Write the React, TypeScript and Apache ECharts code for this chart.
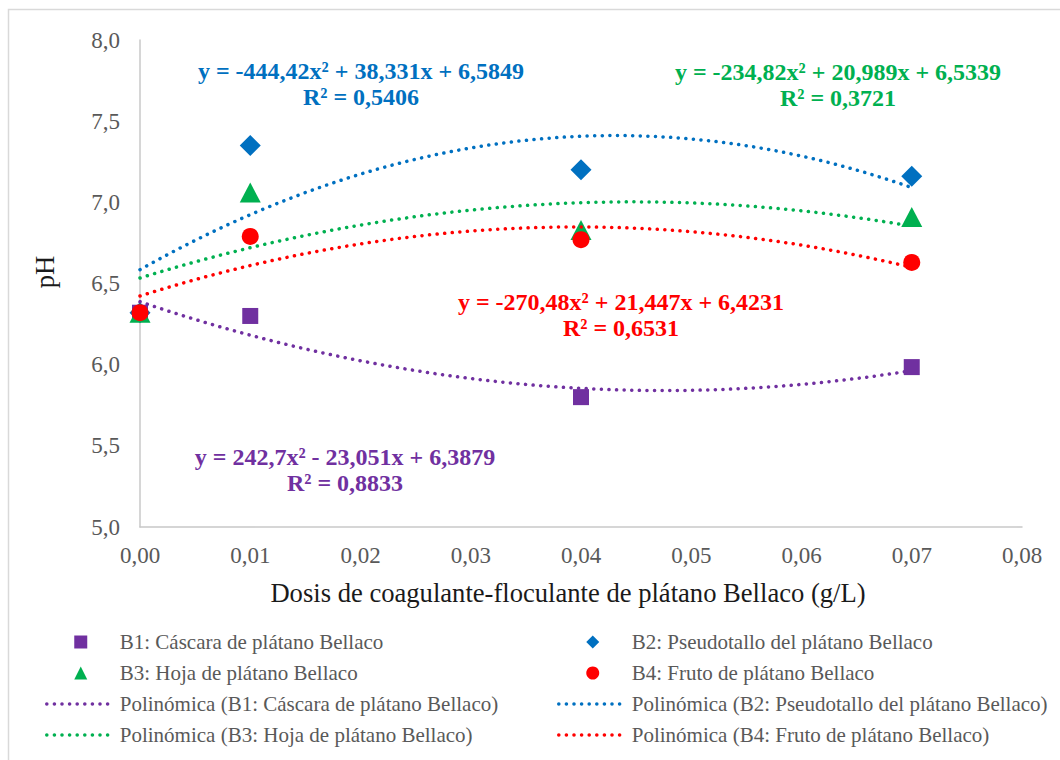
import { useEffect, useRef } from "react";
import * as echarts from "echarts";

// Doses (g/L) where measurements were taken
const doses = [0, 0.01, 0.04, 0.07];
// pH values
const phB1 = [6.32, 6.30, 5.80, 5.985];
const phB2 = [6.32, 7.35, 7.20, 7.16];
const phB3 = [6.32, 7.06, 6.83, 6.91];
const phB4 = [6.32, 6.79, 6.77, 6.63];

// Displayed polynomial trendline coefficients [a, b, c] for y = a x² + b x + c
const fitB1 = [242.7, -23.051, 6.3879];
const fitB2 = [-444.42, 38.331, 6.5849];
const fitB3 = [-234.82, 20.989, 6.5339];
const fitB4 = [-270.48, 21.447, 6.4231];

const eqB1 = "y = 242,7x² - 23,051x + 6,3879\nR² = 0,8833";
const eqB2 = "y = -444,42x² + 38,331x + 6,5849\nR² = 0,5406";
const eqB3 = "y = -234,82x² + 20,989x + 6,5339\nR² = 0,3721";
const eqB4 = "y = -270,48x² + 21,447x + 6,4231\nR² = 0,6531";

const seriesNames = [
  "B1: Cáscara de plátano Bellaco",
  "B2: Pseudotallo del plátano Bellaco",
  "B3: Hoja de plátano Bellaco",
  "B4: Fruto de plátano Bellaco",
];
const trendNames = seriesNames.map((n) => `Polinómica (${n})`);

const colors = ["#7030A0", "#0070C0", "#00B050", "#FF0000"];
const symbols = ["rect", "diamond", "triangle", "circle"];
const legendIcons = [
  "path://M0,0H1V1H0Z",
  "path://M0.5,0L1,0.5L0.5,1L0,0.5Z",
  "path://M0.5,0L1,1L0,1Z",
  "circle",
];
const symbolSizes = [16, 21, [21, 20], 17];

const xAxisTitle = "Dosis de coagulante-floculante de plátano Bellaco (g/L)";
const yAxisTitle = "pH";

const SERIF = "Liberation Serif, Times New Roman, serif";

function trendPoints(coef: number[], x0: number, x1: number, steps: number) {
  const pts: number[][] = [];
  for (let i = 0; i <= steps; i++) {
    const x = x0 + ((x1 - x0) * i) / steps;
    pts.push([x, coef[0] * x * x + coef[1] * x + coef[2]]);
  }
  return pts;
}

export default function App() {
  const ref = useRef<HTMLDivElement>(null);
  useEffect(() => {
    if (!ref.current) return;
    const chart = echarts.init(ref.current, undefined, { renderer: "svg" });
    const values = [phB1, phB2, phB3, phB4];
    const fits = [fitB1, fitB2, fitB3, fitB4];
    const scatterSeries = values.map((vals, i) => ({
      type: "scatter",
      name: seriesNames[i],
      data: doses.map((d, j) => [d, vals[j]]),
      symbol: symbols[i],
      symbolSize: symbolSizes[i],
      itemStyle: { color: colors[i], opacity: 1 },
      z: 2 + i,
    }));
    const lineSeries = fits.map((coef, i) => ({
      type: "line",
      name: trendNames[i],
      data: trendPoints(coef, doses[0], doses[doses.length - 1], 140),
      symbol: "none",
      showSymbol: false,
      smooth: false,
      lineStyle: { color: colors[i], width: 3.5, type: [0.1, 7.5], cap: "round" },
      itemStyle: { color: colors[i] },
      z: 10,
    }));
    const legendBase = {
      orient: "vertical",
      padding: 0,
      itemWidth: 68,
      itemHeight: 13,
      itemGap: 10,
      symbolKeepAspect: true,
      textStyle: { fontFamily: SERIF, fontSize: 21, lineHeight: 21, color: "#595959" },
    };
    const scatterItem = (i: number) => ({
      name: seriesNames[i],
      icon: legendIcons[i],
    });
    const trendItem = (i: number) => ({
      name: trendNames[i],
      itemStyle: { opacity: 0 },
      lineStyle: { color: colors[i], width: 3.5, type: [0.1, 7.5], cap: "round" },
    });
    const eqStyle = (text: string, color: string, x: number, y: number) => ({
      type: "text",
      x,
      y,
      style: {
        text,
        fill: color,
        font: `bold 24px ${SERIF}`,
        textAlign: "center",
        textVerticalAlign: "middle",
        lineHeight: 26,
      },
      z: 20,
    });
    chart.setOption({
      animation: false,
      backgroundColor: "#ffffff",
      grid: { left: 140, right: 38, top: 40, height: 487, containLabel: false },
      xAxis: {
        type: "value",
        min: 0,
        max: 0.08,
        interval: 0.01,
        axisLine: { show: true, lineStyle: { color: "#C8C8C8", width: 1.5 } },
        axisTick: { show: false },
        splitLine: { show: false },
        axisLabel: {
          margin: 17,
          fontFamily: SERIF,
          fontSize: 23,
          color: "#595959",
          formatter: (v: number) => v.toFixed(2).replace(".", ","),
        },
      },
      yAxis: {
        type: "value",
        min: 5,
        max: 8,
        interval: 0.5,
        axisLine: { show: true, lineStyle: { color: "#C8C8C8", width: 1.5 } },
        axisTick: { show: false },
        splitLine: { show: false },
        axisLabel: {
          margin: 20,
          fontFamily: SERIF,
          fontSize: 23,
          color: "#595959",
          formatter: (v: number) => v.toFixed(1).replace(".", ","),
        },
      },
      legend: [
        {
          ...legendBase,
          left: 45,
          top: 631.5,
          data: [scatterItem(0), scatterItem(2), trendItem(0), trendItem(2)],
        },
        {
          ...legendBase,
          left: 557,
          top: 631.5,
          data: [scatterItem(1), scatterItem(3), trendItem(1), trendItem(3)],
        },
      ],
      graphic: [
        {
          type: "rect",
          shape: { x: 8.5, y: 9.5, width: 1200, height: 900 },
          style: { fill: "none", stroke: "#D9D9D9", lineWidth: 1.5 },
          z: -1,
        },
        {
          type: "text",
          x: 568,
          y: 593,
          style: {
            text: xAxisTitle,
            fill: "#1a1a1a",
            font: `26.6px ${SERIF}`,
            textAlign: "center",
            textVerticalAlign: "middle",
          },
        },
        {
          type: "text",
          x: 45,
          y: 272,
          rotation: Math.PI / 2,
          style: {
            text: yAxisTitle,
            fill: "#1a1a1a",
            font: `26.6px ${SERIF}`,
            textAlign: "center",
            textVerticalAlign: "middle",
          },
        },
        eqStyle(eqB2, colors[1], 361, 84),
        eqStyle(eqB3, colors[2], 838, 85),
        eqStyle(eqB4, colors[3], 621, 315),
        eqStyle(eqB1, colors[0], 345, 470),
      ],
      series: [...scatterSeries, ...lineSeries],
    });
    return () => chart.dispose();
  }, []);
  return (
    <div
      ref={ref}
      style={{ position: "absolute", left: 0, top: 0, width: 1060, height: 760 }}
    />
  );
}
